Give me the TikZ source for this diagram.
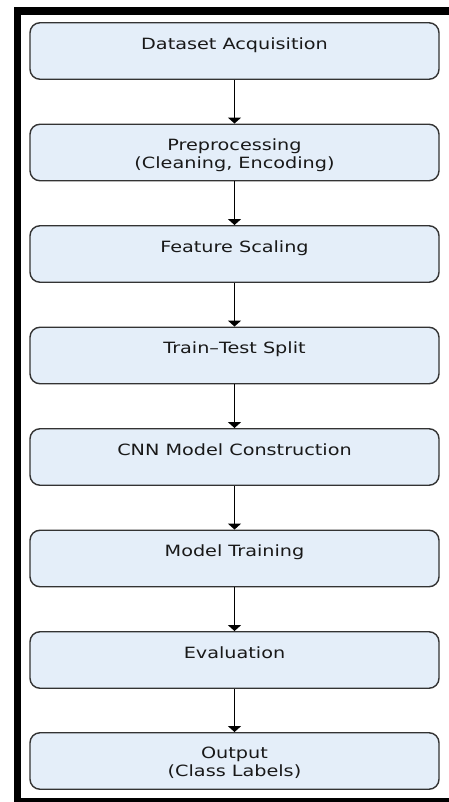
\documentclass[tikz,border=0pt]{standalone}
\usepackage{fontspec}
\usetikzlibrary{arrows.meta}
\newfontfamily\boxfont[FakeStretch=1.24]{DejaVu Sans}
\definecolor{boxblue}{RGB}{228,238,249}
\begin{document}
\begin{tikzpicture}[x=1pt, y=-1pt, line join=round, >={Triangle[width=13pt,length=6pt]},
    stage/.style={draw=black!80, line width=1.4pt, fill=boxblue, rounded corners=10pt,
      minimum width=409pt, minimum height=56.5pt, inner sep=0pt},
    caption/.style={anchor=north, inner sep=0pt, align=center, text=black!90, yshift=-15pt,
      font=\boxfont\fontsize{15.5}{17.5}\selectfont}]
  \fill[white] (0,0) rectangle (449,802);
  \useasboundingbox (0,0) rectangle (449,802);
  % frame
  \fill (14,7) rectangle (21,802);
  \fill (14,7) rectangle (449,15);
  \fill (14,798) rectangle (449,802);
  % stages
  \node[stage] (s1) at (234.5,51) {};
  \node[stage] (s2) at (234.5,152.5) {};
  \node[stage] (s3) at (234.5,254) {};
  \node[stage] (s4) at (234.5,355.5) {};
  \node[stage] (s5) at (234.5,457) {};
  \node[stage] (s6) at (234.5,558.5) {};
  \node[stage] (s7) at (234.5,660) {};
  \node[stage] (s8) at (234.5,761) {};
  \node[caption] (t1) at (s1.north) {Dataset Acquisition};
  \node[caption] (t2) at (s2.north) {Preprocessing\\(Cleaning, Encoding)};
  \node[caption] (t3) at (s3.north) {Feature Scaling};
  \node[caption] (t4) at (s4.north) {Train–Test Split};
  \node[caption] (t5) at (s5.north) {CNN Model Construction};
  \node[caption] (t6) at (s6.north) {Model Training};
  \node[caption] (t7) at (s7.north) {Evaluation};
  \node[caption] (t8) at (s8.north) {Output\\(Class Labels)};
  % flow
  \draw[->, line width=1.5pt] (s1) -- (s2);
  \draw[->, line width=1.5pt] (s2) -- (s3);
  \draw[->, line width=1.5pt] (s3) -- (s4);
  \draw[->, line width=1.5pt] (s4) -- (s5);
  \draw[->, line width=1.5pt] (s5) -- (s6);
  \draw[->, line width=1.5pt] (s6) -- (s7);
  \draw[->, line width=1.5pt] (s7) -- (s8);
\end{tikzpicture}
\end{document}
